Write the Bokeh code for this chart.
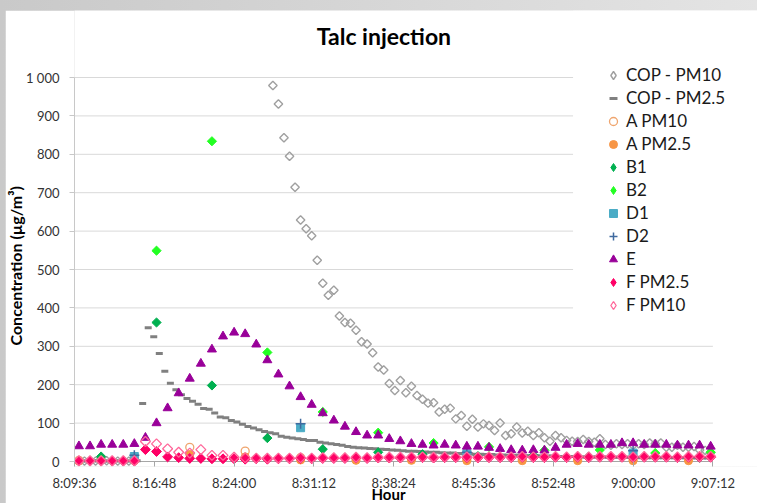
import math

from bokeh.embed import file_html
from bokeh.layouts import column
from bokeh.models import BoxAnnotation, FixedTicker, Label, Legend, LegendItem, Title
from bokeh.plotting import figure
from bokeh.resources import INLINE

# ---------------------------------------------------------------- data
tick_labels = ["8:09:36", "8:16:48", "8:24:00", "8:31:12", "8:38:24",
               "8:45:36", "8:52:48", "9:00:00", "9:07:12"]
y_ticks = [0, 100, 200, 300, 400, 500, 600, 700, 800, 900, 1000]

# COP - PM10: 30 s samples, two recorded stretches
cop10_early_start = "8:10:00"
cop10_early = [2, 1, 2, 1, 1, 2, 1, 1, 2, 1, 1]
cop10_start = "8:27:30"
cop10 = [979, 931, 843, 795, 714, 629, 606, 588, 524, 464, 433, 446, 379, 362,
         360, 342, 312, 306, 283, 246, 238, 203, 185, 211, 179, 196, 172, 162,
         152, 153, 129, 136, 139, 111, 120, 92, 110, 90, 98, 94, 81, 100, 68,
         72, 90, 74, 79, 68, 75, 62, 53, 68, 62, 55, 53, 52, 57, 52, 50, 59,
         44, 42, 46, 44, 46, 42, 46, 44, 48, 46, 48, 37, 37, 42, 37, 37, 39,
         30, 29, 24]

# COP - PM2.5: 30 s samples
cop25_start = "8:10:15"
cop25 = [1, 1, 2, 1, 1, 1, 2, 1, 1, 1, 2,
         151, 348, 325, 281, 235, 204, 187, 174, 164, 157, 149, 138, 136, 126,
         116, 114, 107, 103, 97, 91, 87, 83, 78, 75, 72, 66, 63, 61, 59, 57,
         55, 55, 50, 48, 46, 44, 42, 39, 37,
         36, 35, 34, 33, 32, 31, 30, 29, 28, 27, 27, 26, 25, 24, 24, 23, 22,
         22, 21, 20, 20, 19, 19, 18, 18, 17, 17, 16, 16, 16, 15, 15, 15, 14,
         14, 14, 13, 13, 13, 13, 12, 12, 12, 12, 12, 11, 11, 11, 11, 11, 11,
         10, 10, 10, 10, 10, 10, 10, 10, 10, 10, 9, 9, 9]

# Site A: 5 min samples
a_times = ["8:10:00", "8:15:00", "8:20:00", "8:25:00", "8:30:00", "8:35:00",
           "8:40:00", "8:45:00", "8:50:00", "8:55:00", "9:00:00", "9:05:00"]
a_pm10 = [3, 8, 37, 27, 10, 8, 8, 6, 6, 6, 5, 5]
a_pm25 = [1, 2, 18, 12, 4, 3, 3, 2, 2, 2, 2, 2]

# Site B
b1_times = ["8:12:00", "8:17:00", "8:22:00", "8:27:00", "8:32:00", "8:37:00",
            "8:41:00", "8:46:00", "8:51:00", "8:56:00", "9:01:00", "9:06:00"]
b1 = [13, 362, 198, 61, 32, 24, 19, 14, 16, 13, 11, 10]
b2_times = ["8:12:00", "8:17:00", "8:22:00", "8:27:00", "8:32:00", "8:37:00",
            "8:42:00", "8:47:00", "8:52:00", "8:57:00", "9:02:00", "9:07:00"]
b2 = [4, 549, 834, 284, 129, 75, 48, 38, 29, 30, 22, 24]

# Site D: 15 min samples
d_times = ["8:15:00", "8:30:00", "8:45:00", "9:00:00"]
d1 = [13, 88, 20, 22]
d2 = [16, 98, 24, 28]

# Sites E and F: 1 min samples
ef_start = "8:10:00"
e = [40, 40, 44, 44, 44, 46, 62, 100, 139, 178, 216, 255, 292, 326, 336, 332,
     305, 264, 227, 196, 168, 148, 126, 107, 91, 77, 68, 68, 59, 53, 46, 44,
     42, 44, 42, 39, 39, 36, 33, 30, 29, 30, 29, 36, 44, 46, 44, 44, 44, 48,
     48, 44, 44, 44, 42, 42, 42, 39]
f_pm25 = [1, 1, 1, 1, 1, 1, 31, 26, 12, 10, 8, 8, 7, 7, 7, 6, 7, 6, 7, 7,
          8, 7, 8, 8, 8, 9, 8, 9, 9, 9, 9, 10, 9, 10, 10, 10, 9, 10, 10, 10,
          11, 10, 10, 11, 10, 11, 10, 11, 11, 11, 10, 11, 11, 11, 10, 11, 11, 11]
f_pm10 = [2, 2, 2, 2, 2, 2, 52, 46, 33, 24, 22, 31, 16, 16, 11, 10, 9, 9, 9, 9,
          10, 9, 10, 10, 10, 11, 10, 11, 11, 11, 11, 12, 11, 12, 12, 12, 11, 12,
          12, 12, 13, 12, 12, 13, 12, 13, 12, 13, 13, 13, 12, 13, 13, 13, 12,
          13, 13, 13]


# ---------------------------------------------------------------- helpers
def clock(text):
    h, m, s = (int(v) for v in text.split(":"))
    return h * 3600 + m * 60 + s


def series_times(start, step, n):
    t0 = clock(start)
    return [t0 + step * i for i in range(n)]


FONT = "Lato"
tick_pos = [clock(t) for t in tick_labels]

# plot frame geometry: the axis spans 644 px of a 689 px wide frame,
# the frame is 456 px tall with the zero line 5 px above its bottom edge
AXIS_W, FRAME_W = 644, 689
PX_PER_UNIT = 0.384
x_end = tick_pos[0] + (tick_pos[-1] - tick_pos[0]) * FRAME_W / AXIS_W
y_start, y_end = -5 / PX_PER_UNIT, 451 / PX_PER_UNIT

p = figure(width=752, height=493, output_backend="svg", toolbar_location=None,
           x_range=(tick_pos[0], x_end), y_range=(y_start, y_end))
p.margin = (10, 0, 0, 5)
p.min_border_left = 63
p.min_border_right = 0
p.min_border_top = 0
p.min_border_bottom = 37
p.outline_line_color = None
p.background_fill_color = "white"
p.border_fill_color = "white"
p.title.visible = False

# axes
xa = p.xaxis[0]
xa.bounds = (tick_pos[0], tick_pos[-1])
xa.ticker = FixedTicker(ticks=tick_pos)
xa.major_label_overrides = {t: lab for t, lab in zip(tick_pos, tick_labels)}
xa.axis_line_color = None
xa.major_tick_in = 5
xa.major_tick_out = 0
xa.major_tick_line_color = "#A6A6A6"
xa.minor_tick_line_color = None
xa.major_label_standoff = 8
xa.major_label_text_font = FONT
xa.major_label_text_font_size = "13px"
xa.major_label_text_color = "#333333"

ya = p.yaxis[0]
ya.bounds = (0, 1000)
ya.ticker = FixedTicker(ticks=y_ticks)
ya.major_label_overrides = {1000: "1 000"}
ya.axis_line_color = "#C8C8C8"
ya.major_tick_in = 0
ya.major_tick_out = 5
ya.major_tick_line_color = "#C8C8C8"
ya.minor_tick_line_color = None
ya.major_label_standoff = 10
ya.major_label_text_font = FONT
ya.major_label_text_font_size = "13px"
ya.major_label_text_color = "#333333"

# axis titles, centred on the labelled part of each axis
p.add_layout(Title(text="Hour", align="left", vertical_align="top", offset=297,
                   standoff=-18, text_font=FONT, text_font_size="15px",
                   text_font_style="bold", text_color="black"), "below")
p.add_layout(Title(text="Concentration (µg/m³)", align="left", offset=121,
                   standoff=-3, text_font=FONT, text_font_size="16px",
                   text_font_style="bold", text_color="black"), "left")

# horizontal grid limited to the time axis
p.xgrid.grid_line_color = None
p.ygrid.grid_line_color = None
n_grid = len(y_ticks)
p.segment(x0=[tick_pos[0]] * n_grid, y0=y_ticks, x1=[tick_pos[-1]] * n_grid,
          y1=y_ticks, line_color=["#A6A6A6"] + ["#D9D9D9"] * (n_grid - 1),
          line_width=1)

# chart title
p.add_layout(Label(x=clock("8:37:31"), y=1109, text="Talc injection",
                   text_align="center", text_baseline="middle",
                   text_font=FONT, text_font_style="bold",
                   text_font_size="23px", text_color="black"))

# series, drawn bottom to top; diamonds are squares turned by 45 degrees
DIAMOND = math.pi / 4
NAN = float("nan")
items = []


def legend_diamond(**style):
    # a renderer with no visible point that only supplies the legend swatch
    return p.scatter([NAN], [NAN], marker="diamond", **style)


style = dict(fill_color=None, line_color="#A0A0A0", line_width=1.4)
p.scatter(series_times(cop10_early_start, 30, len(cop10_early)) +
          series_times(cop10_start, 30, len(cop10)),
          cop10_early + cop10, marker="square", angle=DIAMOND, size=6, **style)
items.append(("COP - PM10", legend_diamond(**style)))

r = p.scatter(series_times(cop25_start, 30, len(cop25)), cop25, marker="dash",
              size=7, line_color="#808080", line_width=3)
items.append(("COP - PM2.5", r))

a_t = [clock(t) for t in a_times]
r = p.scatter(a_t, a_pm10, marker="circle", size=8, fill_color=None,
              line_color="#EFA56E", line_width=1.3)
items.append(("A PM10", r))
r = p.scatter(a_t, a_pm25, marker="circle", size=8, fill_color="#F79646",
              line_color="#F79646")
items.append(("A PM2.5", r))

style = dict(fill_color="#00B050", line_color="#00B050")
p.scatter([clock(t) for t in b1_times], b1, marker="square", angle=DIAMOND,
          size=6.5, **style)
items.append(("B1", legend_diamond(**style)))
style = dict(fill_color="#22FF22", line_color="#22FF22")
p.scatter([clock(t) for t in b2_times], b2, marker="square", angle=DIAMOND,
          size=6.5, **style)
items.append(("B2", legend_diamond(**style)))

d_t = [clock(t) for t in d_times]
r = p.scatter(d_t, d1, marker="square", size=8, fill_color="#4BACC6",
              line_color="#4BACC6")
items.append(("D1", r))
r = p.scatter(d_t, d2, marker="cross", size=10, line_color="#3F6A9F",
              line_width=1.5)
items.append(("D2", r))

ef_t = series_times(ef_start, 60, len(e))
r = p.scatter(ef_t, e, marker="triangle", size=9, fill_color="#990099",
              line_color="#990099")
items.append(("E", r))
style = dict(fill_color="#FF0066", line_color="#FF0066")
p.scatter(ef_t, f_pm25, marker="square", angle=DIAMOND, size=7, **style)
items.append(("F PM2.5", legend_diamond(**style)))
style = dict(fill_color=None, line_color="#FF6699", line_width=1.3)
p.scatter(ef_t, f_pm10, marker="square", angle=DIAMOND, size=7, **style)
items.append(("F PM10", legend_diamond(**style)))

# white legend panel that sits over the upper right of the plot area
p.add_layout(BoxAnnotation(left=clock("8:54:35"), bottom=320,
                           fill_color="white", fill_alpha=1.0, line_color=None))

legend = Legend(items=[LegendItem(label=lab, renderers=[rr]) for lab, rr in items],
                location=(529, 151), padding=4, spacing=2,
                glyph_width=20, glyph_height=20, label_height=20,
                label_standoff=3, margin=0,
                label_text_font=FONT, label_text_font_size="17px",
                label_text_color="#1A1A1A",
                background_fill_color="white", background_fill_alpha=1.0,
                border_line_color=None)
p.add_layout(legend)

page = column(p, styles={"background": "linear-gradient(90deg, #c9c9c9, #e4e4e4)"})
open("out.html", "w").write(file_html(page, INLINE))
